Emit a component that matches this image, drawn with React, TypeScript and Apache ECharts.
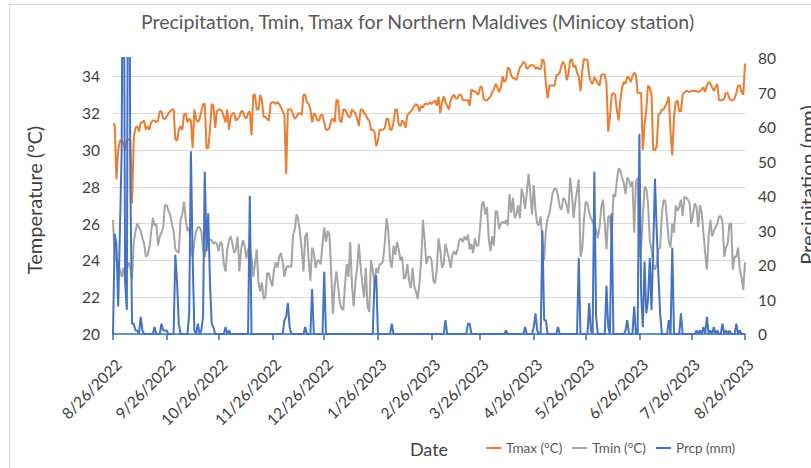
import React, { useEffect, useRef } from "react";
import * as echarts from "echarts";

// ---- Data -----------------------------------------------------------------
const startDate = "2022-08-26";
const dayCount = 366;

const xTickLabels = [
  "8/26/2022", "9/26/2022", "10/26/2022", "11/26/2022", "12/26/2022",
  "1/26/2023", "2/26/2023", "3/26/2023", "4/26/2023", "5/26/2023",
  "6/26/2023", "7/26/2023", "8/26/2023",
];

const tmax = [
  31.4, 31.4, 28.4, 30.0, 30.5, 30.5, 30.4, 30.0, 30.5, 30.6,
  30.5, 27.1, 30.7, 31.2, 31.3, 31.0, 31.5, 31.5, 31.6, 31.1,
  31.3, 31.1, 31.5, 31.6, 31.6, 31.5, 31.6, 32.1, 32.1, 31.7,
  31.7, 31.8, 32.0, 32.1, 32.2, 32.2, 30.6, 30.5, 31.1, 31.3,
  31.1, 31.9, 32.0, 31.5, 31.7, 31.6, 30.1, 32.2, 31.7, 31.5,
  31.7, 32.1, 32.5, 32.5, 30.1, 30.1, 31.1, 32.5, 32.4, 31.2,
  32.1, 32.2, 32.2, 32.1, 31.8, 31.5, 32.2, 31.1, 31.8, 32.0,
  32.0, 31.6, 31.7, 31.8, 32.1, 32.1, 31.8, 31.7, 32.0, 32.1,
  30.8, 33.0, 33.0, 32.2, 32.2, 33.0, 32.7, 31.8, 31.8, 31.7,
  31.6, 32.5, 32.6, 32.6, 32.5, 32.6, 32.5, 32.3, 32.1, 31.9,
  28.7, 32.2, 32.2, 32.2, 31.9, 31.7, 31.8, 32.0, 32.0, 31.9,
  33.0, 33.0, 32.6, 32.5, 32.2, 31.5, 32.0, 31.9, 31.6, 31.6,
  31.9, 31.9, 31.5, 31.1, 31.1, 31.2, 31.6, 31.7, 31.5, 32.7,
  32.7, 31.6, 31.5, 32.2, 32.2, 32.0, 31.8, 31.8, 32.2, 32.1,
  32.0, 31.7, 31.3, 32.2, 32.2, 32.0, 31.9, 31.7, 31.6, 31.1,
  31.1, 31.0, 30.2, 30.5, 31.1, 31.1, 31.1, 31.2, 31.7, 31.7,
  31.1, 31.1, 31.5, 32.2, 32.2, 31.4, 31.3, 31.6, 31.5, 31.2,
  31.9, 32.0, 32.1, 32.2, 32.4, 32.5, 32.4, 32.1, 32.4, 32.3,
  32.5, 32.5, 32.5, 32.6, 32.5, 32.6, 32.7, 32.4, 32.9, 32.0,
  32.6, 32.9, 32.6, 32.4, 32.2, 32.7, 32.9, 33.0, 32.8, 32.8,
  33.0, 33.0, 32.7, 32.7, 32.7, 32.7, 32.4, 33.3, 33.2, 33.2,
  33.1, 33.0, 33.4, 33.45, 32.8, 32.7, 32.7, 32.8, 32.9, 33.15,
  33.3, 33.6, 33.4, 33.15, 33.4, 34.0, 33.7, 33.8, 34.5, 34.4,
  34.05, 33.9, 33.9, 33.8, 34.15, 34.5, 34.6, 34.8, 34.7, 34.4,
  34.5, 34.6, 34.6, 34.6, 34.4, 34.5, 34.4, 34.4, 34.95, 34.8,
  33.6, 32.8, 33.5, 33.5, 33.5, 33.5, 34.05, 34.1, 34.2, 34.6,
  34.8, 34.6, 33.8, 34.1, 34.85, 34.95, 34.5, 34.6, 34.2, 34.0,
  33.2, 34.3, 34.95, 34.9, 34.9, 34.05, 33.7, 33.6, 33.95, 33.8,
  33.6, 33.5, 34.1, 34.1, 34.1, 33.6, 31.0, 31.8, 33.0, 33.1,
  33.0, 32.2, 31.6, 32.7, 33.4, 33.7, 33.6, 34.0, 33.9, 33.7,
  34.0, 34.2, 34.1, 33.1, 33.1, 33.1, 30.0, 31.4, 32.2, 33.5,
  33.4, 33.0, 30.0, 30.0, 30.2, 31.9, 32.0, 32.2, 32.2, 32.4,
  32.6, 32.9, 31.0, 29.7, 31.8, 32.6, 32.7, 32.1, 32.1, 33.0,
  33.15, 33.2, 33.2, 33.15, 33.2, 33.2, 33.2, 33.2, 33.15, 33.2,
  33.3, 33.4, 33.15, 33.5, 33.7, 33.6, 33.4, 33.2, 33.4, 33.6,
  32.7, 32.7, 32.7, 32.8, 33.1, 33.1, 32.8, 32.7, 32.7, 32.8,
  33.1, 33.5, 33.5, 33.15, 33.0, 34.7,
];

const tmin = [
  26.2, 24.0, 24.1, 23.8, 23.5, 23.1, 23.6, 22.9, 23.5, 23.9,
  23.6, 23.0, 25.0, 25.6, 26.0, 25.8, 25.6, 25.2, 24.9, 24.2,
  24.3, 24.7, 25.5, 26.3, 25.9, 26.0, 24.8, 25.3, 25.5, 25.8,
  27.0, 27.0, 26.7, 26.5, 26.0, 25.6, 24.6, 24.5, 24.4, 26.2,
  26.5, 27.2, 26.2, 25.6, 25.8, 24.6, 24.2, 25.0, 25.6, 25.8,
  25.8, 25.6, 24.6, 24.2, 24.7, 25.3, 25.1, 25.1, 24.9, 25.0,
  24.9, 24.5, 25.0, 24.9, 23.8, 23.4, 24.6, 25.1, 25.3, 24.9,
  24.4, 24.6, 25.3, 23.4, 24.6, 25.1, 24.8, 24.1, 24.6, 24.7,
  24.2, 23.1, 23.8, 24.6, 22.8, 22.3, 22.8, 21.9, 22.0, 23.3,
  23.3, 22.9, 22.6, 23.5, 23.9, 23.6, 24.2, 24.4, 23.9, 23.1,
  23.6, 23.7, 23.65, 23.65, 25.4, 25.7, 26.5, 26.2, 25.5, 24.6,
  23.4, 25.3, 25.5, 24.0, 22.9, 24.7, 24.4, 23.6, 24.0, 24.0,
  23.8, 24.9, 25.8, 25.0, 25.6, 25.4, 23.4, 21.1, 22.6, 23.4,
  22.6, 21.7, 21.4, 21.3, 22.7, 23.8, 23.1, 25.0, 22.7, 21.5,
  22.8, 23.6, 24.9, 23.7, 22.7, 22.0, 23.6, 21.5, 21.2, 24.0,
  23.5, 22.75, 23.6, 23.3, 23.8, 23.8, 24.0, 25.0, 26.3, 25.6,
  24.0, 23.6, 24.8, 24.3, 25.0, 24.6, 24.0, 24.2, 23.0, 23.1,
  23.8, 22.9, 22.5, 23.6, 22.6, 22.3, 21.9, 22.8, 24.0, 26.2,
  25.1, 23.8, 24.2, 24.2, 24.0, 22.9, 22.75, 23.5, 25.2, 24.6,
  23.6, 23.8, 24.9, 24.5, 24.1, 23.6, 24.3, 24.5, 24.3, 24.6,
  25.1, 25.2, 25.0, 25.3, 25.1, 25.4, 24.6, 24.9, 24.4, 25.2,
  24.8, 24.8, 25.8, 27.0, 27.2, 26.5, 26.9, 25.2, 24.5, 25.3,
  24.8, 26.7, 26.6, 25.7, 26.0, 26.1, 26.0, 26.2, 25.9, 27.6,
  26.6, 27.4, 26.3, 26.5, 27.0, 26.3, 27.9, 27.5, 26.8, 27.7,
  28.7, 27.7, 26.5, 28.1, 26.7, 26.0, 25.9, 26.4, 25.0, 24.0,
  25.6, 26.3, 26.5, 27.1, 27.7, 27.9, 27.9, 27.5, 26.9, 26.75,
  27.4, 27.3, 27.0, 26.55, 28.5, 27.6, 26.3, 27.2, 27.8, 28.4,
  24.2, 24.6, 26.2, 27.2, 27.1, 26.6, 26.3, 26.1, 25.9, 25.7,
  25.2, 25.8, 26.9, 27.3, 26.0, 24.6, 26.4, 26.4, 25.0, 27.6,
  27.45, 28.35, 29.0, 28.9, 28.5, 28.2, 27.6, 28.5, 28.35, 28.0,
  28.3, 25.5, 28.2, 28.5, 24.2, 24.6, 26.4, 28.0, 27.9, 27.1,
  25.1, 24.6, 23.8, 23.5, 23.8, 24.6, 24.7, 26.55, 27.3, 27.2,
  26.2, 25.0, 24.7, 26.0, 25.5, 27.0, 26.7, 26.9, 27.3, 26.4,
  27.45, 27.4, 27.3, 27.1, 26.0, 26.55, 27.1, 26.9, 25.8, 27.0,
  26.6, 25.5, 24.4, 23.5, 25.3, 26.2, 25.3, 25.6, 25.8, 26.0,
  26.4, 26.4, 26.1, 24.2, 24.7, 24.9, 26.0, 26.0, 23.5, 24.2,
  24.2, 24.7, 23.5, 23.1, 22.4, 23.9,
];

// Wet days: [day index from 8/26/2022, precipitation mm]; all other days read as 0
const prcpWetDays: [number, number][] = [
  [1, 29], [2, 26], [3, 8], [4, 30], [5, 53], [6, 150], [7, 15], [8, 7],
  [9, 180], [10, 45], [11, 3], [12, 3], [13, 1], [14, 1], [16, 5], [17, 1],
  [24, 2], [28, 3], [29, 1], [30, 1], [31, 1], [36, 23], [37, 15], [38, 3],
  [44, 6], [45, 53], [46, 22], [47, 1], [49, 3], [51, 1], [52, 5], [53, 47],
  [54, 24], [55, 35], [56, 15], [57, 3], [58, 2], [65, 2], [67, 1], [79, 40],
  [99, 4], [100, 5], [101, 9], [102, 2], [111, 2], [115, 13], [122, 18],
  [151, 15], [152, 17], [161, 3], [192, 4], [205, 3], [206, 3], [227, 1],
  [238, 2], [243, 2], [244, 6], [245, 1], [248, 30], [249, 4], [250, 4],
  [257, 2], [269, 22], [275, 9], [276, 1], [278, 47], [279, 5], [285, 14],
  [286, 2], [288, 35], [296, 1], [297, 4], [301, 8], [304, 58], [305, 12],
  [306, 2], [307, 21], [308, 6], [309, 10], [310, 22], [311, 7], [312, 25],
  [313, 45], [314, 30], [315, 17], [316, 6], [321, 4], [323, 25], [328, 6],
  [337, 1], [339, 1], [341, 2], [343, 5], [345, 1], [347, 2], [349, 1],
  [352, 3], [354, 1], [356, 1], [360, 3], [362, 1],
];

// ---- Helpers --------------------------------------------------------------
function buildDates(): string[] {
  const out: string[] = [];
  const [y, m, d] = startDate.split("-").map(Number);
  const cur = new Date(Date.UTC(y, m - 1, d));
  for (let i = 0; i < dayCount; i++) {
    out.push(`${cur.getUTCMonth() + 1}/${cur.getUTCDate()}/${cur.getUTCFullYear()}`);
    cur.setUTCDate(cur.getUTCDate() + 1);
  }
  return out;
}

function buildPrcp(): number[] {
  const arr = new Array(dayCount).fill(0);
  prcpWetDays.forEach(([i, v]) => {
    arr[i] = v;
  });
  return arr;
}

const FONT = "Lato, 'Noto Sans', sans-serif";
const AXIS_BLUE = "#2F6FC4";

export default function App() {
  const ref = useRef<HTMLDivElement>(null);

  useEffect(() => {
    if (!ref.current) return;
    const chart = echarts.init(ref.current, undefined, { renderer: "svg" });
    const dates = buildDates();
    const prcp = buildPrcp();
    const labelSet = new Set(xTickLabels);
    const showTick = (idx: number) => labelSet.has(dates[idx]);

    chart.setOption({
      animation: false,
      backgroundColor: "#ffffff",
      textStyle: { fontFamily: FONT },
      title: {
        text: "Precipitation, Tmin, Tmax for Northern Maldives (Minicoy station)",
        left: 141,
        top: 11,
        padding: 0,
        textStyle: { fontFamily: FONT, fontSize: 19.5, fontWeight: "normal", color: "#595959" },
      },
      legend: {
        left: 486,
        top: 441,
        padding: 0,
        itemGap: 10,
        itemWidth: 15,
        itemHeight: 2,
        icon: "rect",
        textStyle: { fontFamily: FONT, fontSize: 13.5, color: "#595959" },
        data: ["Tmax (°C)", "Tmin (°C)", "Prcp (mm)"],
      },
      grid: { left: 113, right: 66, top: 58, bottom: 134, containLabel: false },
      xAxis: {
        type: "category",
        data: dates,
        boundaryGap: false,
        axisLine: { show: true, onZero: false, lineStyle: { color: AXIS_BLUE, width: 1.5 } },
        axisTick: {
          show: true,
          interval: showTick,
          length: 6,
          lineStyle: { color: AXIS_BLUE, width: 1.5 },
        },
        axisLabel: {
          interval: showTick,
          rotate: 45,
          margin: 22,
          verticalAlign: "top",
          fontFamily: FONT,
          fontSize: 15.5,
          color: "#404040",
        },
        splitLine: { show: false },
      },
      yAxis: [
        {
          type: "value",
          min: 20,
          max: 35,
          interval: 2,
          axisLine: { show: false },
          axisTick: { show: false },
          axisLabel: {
            margin: 13,
            fontFamily: FONT,
            fontSize: 15.5,
            color: "#404040",
            showMaxLabel: false,
            formatter: (v: number) => (v % 2 === 0 ? String(v) : ""),
          },
          splitLine: {
            show: true,
            showMinLine: false,
            showMaxLine: false,
            lineStyle: { color: "#d9d9d9", width: 1 },
          },
        },
        {
          type: "value",
          min: 0,
          max: 80,
          interval: 10,
          position: "right",
          axisLine: { show: false },
          axisTick: { show: false },
          axisLabel: { margin: 13, fontFamily: FONT, fontSize: 15.5, color: "#404040" },
          splitLine: { show: false },
        },
      ],
      series: [
        {
          name: "Tmax (°C)",
          type: "line",
          yAxisIndex: 0,
          data: tmax,
          showSymbol: false,
          symbol: "none",
          lineStyle: { color: "#ED7D31", width: 2 },
          itemStyle: { color: "#ED7D31" },
        },
        {
          name: "Tmin (°C)",
          type: "line",
          yAxisIndex: 0,
          data: tmin,
          showSymbol: false,
          symbol: "none",
          lineStyle: { color: "#A5A5A5", width: 2 },
          itemStyle: { color: "#A5A5A5" },
        },
        {
          name: "Prcp (mm)",
          type: "line",
          yAxisIndex: 1,
          data: prcp,
          showSymbol: false,
          symbol: "none",
          clip: true,
          lineStyle: { color: "#4472C4", width: 2 },
          itemStyle: { color: "#4472C4" },
        },
      ],
      graphic: [
        {
          type: "rect",
          silent: true,
          z: -10,
          shape: { x: 9.5, y: 4.5, width: 900, height: 600 },
          style: { fill: "none", stroke: "#d9d9d9", lineWidth: 1 },
        },
        {
          type: "text",
          x: 34,
          y: 200,
          rotation: Math.PI / 2,
          style: {
            text: "Temperature (°C)",
            fontFamily: FONT,
            fontSize: 20,
            fill: "#404040",
            align: "center",
            verticalAlign: "middle",
          },
        },
        {
          type: "text",
          x: 807,
          y: 185,
          rotation: Math.PI / 2,
          style: {
            text: "Precipitation (mm)",
            fontFamily: FONT,
            fontSize: 20,
            fill: "#404040",
            align: "center",
            verticalAlign: "middle",
          },
        },
        {
          type: "text",
          x: 429,
          y: 449,
          style: {
            text: "Date",
            fontFamily: FONT,
            fontSize: 18,
            fill: "#404040",
            align: "center",
            verticalAlign: "middle",
          },
        },
      ],
    });

    return () => chart.dispose();
  }, []);

  return (
    <div
      ref={ref}
      style={{ position: "absolute", left: 0, top: 0, width: 811, height: 468 }}
    />
  );
}
